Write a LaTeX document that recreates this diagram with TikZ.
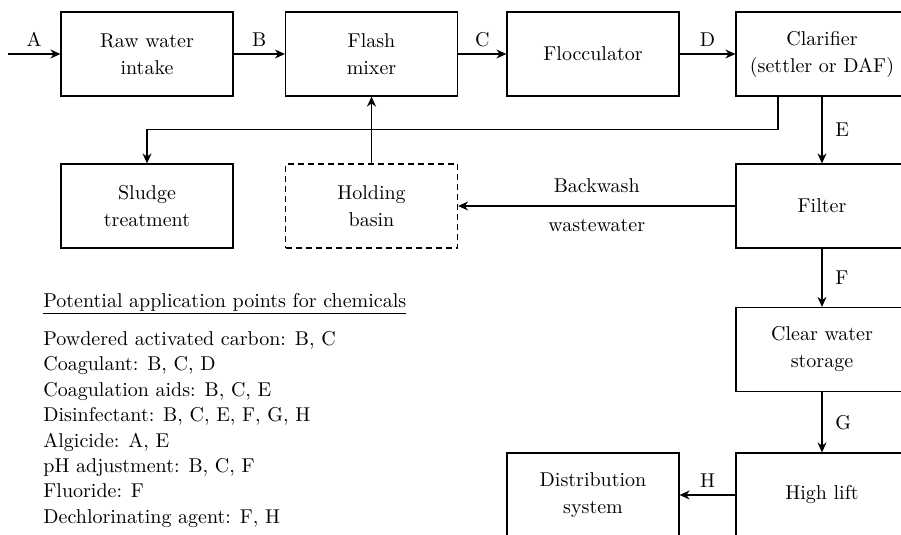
\documentclass[tikz,border=0pt]{standalone}
\usepackage{tikz}
\usetikzlibrary{arrows.meta}

\begin{document}
\begin{tikzpicture}[x=0.5pt, y=-0.5pt,
	unit/.style={shape=rectangle, draw=black, line width=0.6pt, minimum width=86pt, minimum height=42pt, inner sep=0pt, align=center, font=\fontsize{10}{13.5}\selectfont},
	flow/.style={-{Stealth[length=5pt, width=4.5pt]}, line width=0.6pt},
	tag/.style={font=\fontsize{10}{12}\selectfont}]

	\useasboundingbox (0, 0) rectangle (901, 535);
	\clip (0, 0) rectangle (901, 535);

	\node[unit] (raw) at (147, 54)       {Raw water\\intake};
	\node[unit] (mixer) at (371.5, 54)   {Flash\\mixer};
	\node[unit] (floc) at (593, 54)      {Flocculator};
	\node[unit] (clar) at (822, 54)      {Clarifier\\(settler or DAF)};
	\node[unit] (sludge) at (147, 206)   {Sludge\\treatment};
	\node[unit, dash pattern=on 3pt off 2pt] (basin) at (371.5, 206) {Holding\\basin};
	\node[unit] (filter) at (822, 206)   {Filter};
	\node[unit] (storage) at (822, 349.5) {Clear water\\storage};
	\node[unit] (lift) at (822, 495)     {High lift};
	\node[unit] (dist) at (593, 495)     {Distribution\\system};
	\coordinate (in) at (8, 54);

	\path[flow] (in) edge node[tag, above]{A} (raw);
	\path[flow] (raw) edge node[tag, above]{B} (mixer);
	\path[flow] (mixer) edge node[tag, above]{C} (floc);
	\path[flow] (floc) edge node[tag, above]{D} (clar);
	\path[flow] (clar) edge node[tag, right=3pt]{E} (filter);
	\path[flow] (filter) edge node[tag, right=3pt]{F} (storage);
	\path[flow] (storage) edge node[tag, right=3pt]{G} (lift);
	\path[flow] (lift) edge node[tag, above]{H} (dist);
	\path[flow] (basin) edge (mixer);
	\path[flow] (filter) edge node[tag, above=3pt]{Backwash} node[tag, below=3pt]{wastewater} (basin);
	\draw[flow] ([xshift=-22pt]clar.south) -- ++(0, 33) -| (sludge.north);

	% chemicals
	\node[tag, anchor=base west, inner sep=0pt] (chem) at (43, 307) {\underline{Potential application points for chemicals}};
	\node[anchor=north west, inner sep=0pt, align=left, font=\fontsize{10}{12.7}\selectfont] (list) at (43, 331) {Powdered activated carbon: B, C\\
		Coagulant: B, C, D\\
		Coagulation aids: B, C, E\\
		Disinfectant: B, C, E, F, G, H\\
		Algicide: A, E\\
		pH adjustment: B, C, F\\
		Fluoride: F\\
		Dechlorinating agent: F, H};

\end{tikzpicture}
\end{document}
